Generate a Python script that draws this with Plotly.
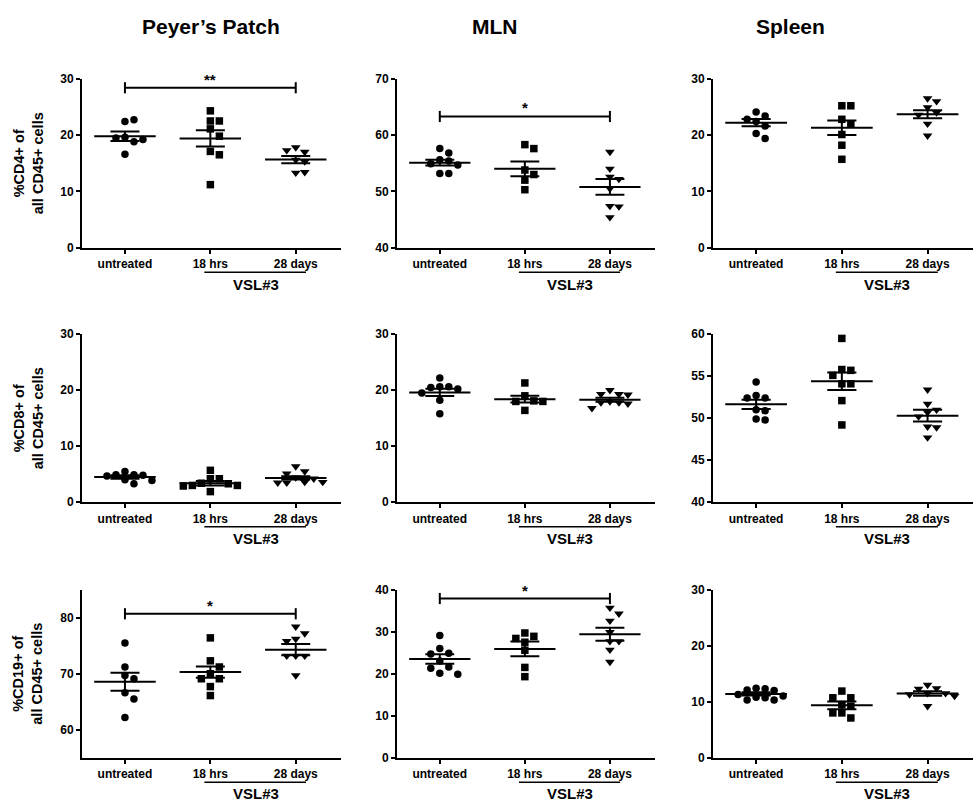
import math
import plotly.graph_objects as go

W, H = 973, 806

categories = ["untreated", "18 hrs", "28 days"]
column_titles = ["Peyer’s Patch", "MLN", "Spleen"]
row_titles = ["%CD4+ of<br>all CD45+ cells", "%CD8+ of<br>all CD45+ cells", "%CD19+ of<br>all CD45+ cells"]
treatment_label = "VSL#3"

# ---- Row 1: %CD4+ ----
pp_cd4 = [
    [22.4, 22.7, 19.6, 18.8, 19.5, 19.2, 16.6],
    [24.3, 22.5, 22.5, 21.1, 19.8, 17.1, 16.5, 11.2],
    [17.8, 17.0, 17.3, 15.6, 15.3, 13.3, 13.4],
]
pp_cd4_mean = [19.8, 19.4, 15.65]
pp_cd4_sem = [0.85, 1.45, 0.65]

mln_cd4 = [
    [57.6, 56.8, 55.6, 55.4, 54.9, 54.7, 53.2, 53.2],
    [58.3, 57.6, 53.8, 53.0, 52.0, 50.3],
    [57.0, 54.0, 52.6, 52.2, 50.5, 47.4, 47.3, 45.4],
]
mln_cd4_mean = [55.1, 54.0, 50.8]
mln_cd4_sem = [0.5, 1.3, 1.4]

spl_cd4 = [
    [24.1, 23.4, 22.8, 22.4, 21.6, 20.3, 19.4],
    [25.2, 25.2, 22.8, 22.0, 20.1, 18.2, 15.7],
    [26.5, 26.0, 24.9, 24.0, 23.6, 22.0, 19.9],
]
spl_cd4_mean = [22.2, 21.3, 23.7]
spl_cd4_sem = [0.65, 1.3, 0.7]

# ---- Row 2: %CD8+ ----
pp_cd8 = [
    [5.5, 4.9, 4.9, 4.8, 4.7, 4.0, 3.9, 3.3],
    [5.7, 4.2, 4.2, 3.4, 3.3, 3.0, 3.0, 2.9, 1.9],
    [6.4, 5.5, 5.1, 4.4, 4.2, 3.6, 3.5, 3.5, 3.6],
]
pp_cd8_mean = [4.5, 3.4, 4.35]
pp_cd8_sem = [0.3, 0.4, 0.3]

mln_cd8 = [
    [22.2, 20.6, 20.6, 20.5, 20.2, 19.5, 18.2, 15.8],
    [21.3, 19.0, 18.1, 18.0, 18.0, 16.4],
    [20.0, 19.3, 19.3, 19.2, 18.0, 17.8, 17.8, 17.6, 16.8],
]
mln_cd8_mean = [19.6, 18.4, 18.3]
mln_cd8_sem = [0.65, 0.6, 0.35]

spl_cd8 = [
    [54.3, 52.7, 52.4, 52.4, 51.0, 50.9, 49.9, 49.8],
    [59.5, 55.8, 55.7, 55.1, 54.1, 54.1, 52.1, 49.2],
    [53.4, 51.7, 51.0, 50.7, 50.2, 49.0, 48.9, 47.7],
]
spl_cd8_mean = [51.65, 54.4, 50.3]
spl_cd8_sem = [0.55, 1.05, 0.7]

# ---- Row 3: %CD19+ ----
pp_cd19 = [
    [75.5, 71.2, 69.7, 69.1, 66.6, 65.5, 62.2],
    [76.4, 72.3, 71.2, 70.0, 69.1, 69.1, 67.7, 66.1],
    [78.4, 77.2, 76.2, 75.8, 73.2, 73.2, 73.2, 69.7],
]
pp_cd19_mean = [68.55, 70.3, 74.3]
pp_cd19_sem = [1.6, 1.0, 1.0]

mln_cd19 = [
    [29.1, 26.0, 24.9, 24.7, 23.0, 21.6, 21.3, 20.1, 19.9],
    [29.7, 28.9, 28.4, 27.5, 25.6, 21.5, 19.3],
    [35.7, 34.3, 32.6, 29.9, 27.7, 27.7, 25.7, 22.8],
]
mln_cd19_mean = [23.5, 25.9, 29.4]
mln_cd19_sem = [1.15, 1.75, 1.55]

spl_cd19 = [
    [12.4, 12.3, 12.1, 12.0, 11.3, 11.0, 10.8, 10.7, 10.3, 10.3],
    [11.9, 10.7, 10.7, 9.5, 9.2, 8.0, 8.0, 7.1],
    [13.0, 12.4, 12.3, 11.5, 11.5, 11.3, 11.0, 9.2],
]
spl_cd19_mean = [11.4, 9.35, 11.45]
spl_cd19_sem = [0.3, 0.7, 0.4]

# axis ranges / ticks per panel (row-major)
y_ranges = [[0, 30], [40, 70], [0, 30],
            [0, 30], [0, 30], [40, 60],
            [55, 85], [0, 40], [0, 30]]
y_ticks = [[0, 10, 20, 30], [40, 50, 60, 70], [0, 10, 20, 30],
           [0, 10, 20, 30], [0, 10, 20, 30], [40, 45, 50, 55, 60],
           [60, 70, 80], [0, 10, 20, 30, 40], [0, 10, 20, 30]]

# significance brackets: (panel index, label, bracket value)
sig_panels = [0, 1, 6, 7]
sig_labels = ["**", "*", "*", "*"]
sig_levels = [28.4, 63.3, 80.7, 37.9]

panels = [
    (pp_cd4, pp_cd4_mean, pp_cd4_sem), (mln_cd4, mln_cd4_mean, mln_cd4_sem), (spl_cd4, spl_cd4_mean, spl_cd4_sem),
    (pp_cd8, pp_cd8_mean, pp_cd8_sem), (mln_cd8, mln_cd8_mean, mln_cd8_sem), (spl_cd8, spl_cd8_mean, spl_cd8_sem),
    (pp_cd19, pp_cd19_mean, pp_cd19_sem), (mln_cd19, mln_cd19_mean, mln_cd19_sem), (spl_cd19, spl_cd19_mean, spl_cd19_sem),
]

# ---------------- layout geometry (pixels) ----------------
col_px = [(82, 341), (397, 655), (713, 973)]
row_px = [(73, 245), (333, 504), (593, 764)]
X_RANGE = [-0.503, 2.53]
vsl_line_px = [270, 529, 789]
vsl_text_px = [282, 541, 800]

FONT = "Liberation Sans, Arial, Helvetica, sans-serif"
symbols = ["circle", "square", "triangle-down"]
sizes = [7.5, 7.5, 8.5]


def swarm_offsets(values, py_per_unit, px_per_unit, diam=8.0, step=9.0):
    placed = []
    offs = []
    cand = [0]
    for i in range(1, 8):
        cand += [i, -i]
    for v in values:
        yp = v * py_per_unit
        chosen = 0.0
        for c in cand:
            xp = c * step
            if all(math.hypot(xp - a, yp - b) >= diam for a, b in placed):
                chosen = xp
                break
        placed.append((chosen, yp))
        offs.append(chosen / px_per_unit)
    return offs


fig = go.Figure()
layout = {}
annotations = []
shapes = []

for idx, (groups, means, sems) in enumerate(panels):
    r, c = divmod(idx, 3)
    n = idx + 1
    xa = "x" if n == 1 else f"x{n}"
    ya = "y" if n == 1 else f"y{n}"
    x0p, x1p = col_px[c]
    t_px, b_px = row_px[r]
    yr = y_ranges[idx]
    py_per_unit = (b_px - t_px) / (yr[1] - yr[0])
    px_per_unit = (x1p - x0p) / (X_RANGE[1] - X_RANGE[0])

    layout["xaxis" if n == 1 else f"xaxis{n}"] = dict(
        domain=[x0p / W, min(x1p / W, 1.0)], range=X_RANGE, anchor=ya,
        tickvals=[0, 1, 2], ticktext=categories,
        showline=True, linecolor="black", linewidth=2, mirror=False,
        ticks="outside", ticklen=4, tickwidth=2, tickcolor="black",
        tickfont=dict(family=FONT, size=12, color="black", weight="bold"),
        showgrid=False, zeroline=False, fixedrange=True,
    )
    layout["yaxis" if n == 1 else f"yaxis{n}"] = dict(
        domain=[1 - b_px / H, 1 - t_px / H], range=yr, anchor=xa,
        tickvals=y_ticks[idx],
        showline=True, linecolor="black", linewidth=2, mirror=False,
        ticks="outside", ticklen=4, tickwidth=2, tickcolor="black",
        tickfont=dict(family=FONT, size=12, color="black", weight="bold"),
        showgrid=False, zeroline=False, fixedrange=True,
    )

    for g, vals in enumerate(groups):
        offs = swarm_offsets(vals, py_per_unit, px_per_unit)
        fig.add_trace(go.Scatter(
            x=[g + o for o in offs], y=vals, mode="markers", xaxis=xa, yaxis=ya,
            marker=dict(symbol=symbols[g], size=sizes[g], color="black", line=dict(width=0)),
            showlegend=False, hoverinfo="y", cliponaxis=False,
        ))
        m, s = means[g], sems[g]
        lx, ly = [], []
        lx += [g - 0.36, g + 0.36, None]; ly += [m, m, None]
        lx += [g - 0.17, g + 0.17, None]; ly += [m + s, m + s, None]
        lx += [g - 0.17, g + 0.17, None]; ly += [m - s, m - s, None]
        lx += [g, g]; ly += [m - s, m + s]
        fig.add_trace(go.Scatter(
            x=lx, y=ly, mode="lines", xaxis=xa, yaxis=ya,
            line=dict(color="black", width=2), showlegend=False, hoverinfo="skip",
            cliponaxis=False,
        ))

    # VSL#3 bracket under 18 hrs / 28 days
    shapes.append(dict(type="line", xref=xa, yref="paper",
                       x0=0.93, x1=2.12, y0=1 - vsl_line_px[r] / H, y1=1 - vsl_line_px[r] / H,
                       line=dict(color="black", width=1.5)))
    annotations.append(dict(text=treatment_label, xref=xa, yref="paper", x=1.53,
                            y=1 - vsl_text_px[r] / H, xanchor="center", yanchor="middle",
                            showarrow=False,
                            font=dict(family=FONT, size=15, color="black", weight="bold")))

# significance brackets
for p, lab, lev in zip(sig_panels, sig_labels, sig_levels):
    n = p + 1
    xa = "x" if n == 1 else f"x{n}"
    ya = "y" if n == 1 else f"y{n}"
    fig.add_trace(go.Scatter(
        x=[0, 2], y=[lev, lev], mode="lines+markers", xaxis=xa, yaxis=ya,
        line=dict(color="black", width=2),
        marker=dict(symbol="line-ns-open", size=8, line=dict(color="black", width=2)),
        showlegend=False, hoverinfo="skip", cliponaxis=False,
    ))
    annotations.append(dict(text=lab, xref=xa, yref=ya, x=1, y=lev, xanchor="center",
                            yanchor="bottom", yshift=-2, showarrow=False,
                            font=dict(family=FONT, size=15, color="black", weight="bold")))

# column titles
title_x = [211, 495, 790]
for t, xp in zip(column_titles, title_x):
    annotations.append(dict(text=t, xref="paper", yref="paper", x=xp / W, y=1 - 20 / H,
                            xanchor="center", yanchor="middle", showarrow=False,
                            font=dict(family=FONT, size=21, color="black", weight="bold")))

# row (y-axis) titles
for r, t in enumerate(row_titles):
    yc = (row_px[r][0] + row_px[r][1]) / 2
    annotations.append(dict(text=t, xref="paper", yref="paper", x=28 / W, y=1 - yc / H,
                            xanchor="center", yanchor="middle", textangle=-90, showarrow=False,
                            align="center",
                            font=dict(family=FONT, size=14.5, color="black", weight="bold")))

fig.update_layout(
    width=W, height=H, margin=dict(l=0, r=0, t=0, b=0),
    paper_bgcolor="white", plot_bgcolor="white",
    annotations=annotations, shapes=shapes, showlegend=False,
    **layout,
)

post = (
    "var s=document.createElement('style');"
    "s.textContent='html,body{margin:0!important;padding:0!important;overflow:hidden!important;"
    "width:973px;height:806px;}';"
    "document.head.appendChild(s);"
    "var g=document.getElementById('{plot_id}');"
    "g.style.position='absolute';g.style.top='0px';g.style.left='0px';"
    "g.style.margin='0px';"
)

fig.write_html(
    "out.html",
    config={"displayModeBar": False, "responsive": False},
    post_script=post,
)
